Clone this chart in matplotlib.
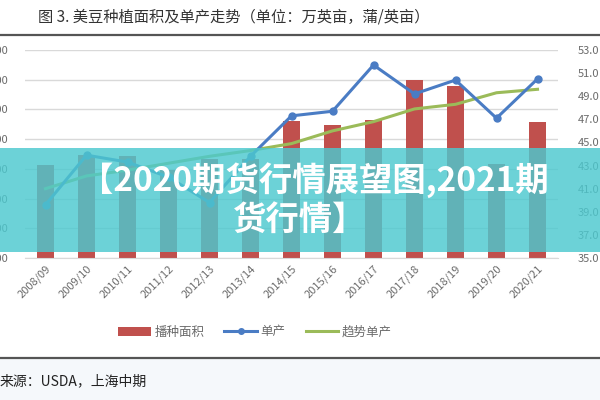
import numpy as np
import matplotlib.pyplot as plt
from matplotlib.patches import Rectangle, Patch
from matplotlib.lines import Line2D

plt.rcParams['font.family'] = ['Noto Sans CJK SC', 'DejaVu Sans']

seasons = ['2008/09', '2009/10', '2010/11', '2011/12', '2012/13', '2013/14', '2014/15',
           '2015/16', '2016/17', '2017/18', '2018/19', '2019/20', '2020/21']
# 播种面积 (万英亩)
area = [7570, 7730, 7715, 7480, 7665, 7660, 8300, 8240, 8330, 9000, 8900, 7590, 8290]
# 单产 (蒲/英亩)
yield_ = [39.6, 43.9, 43.3, 42.0, 39.8, 43.8, 47.3, 47.7, 51.7, 49.2, 50.4, 47.1, 50.5]
# 趋势单产
trend = [41.0, 42.1, 42.6, 43.2, 43.8, 44.3, 44.9, 46.0, 46.8, 47.9, 48.3, 49.3, 49.6]

left_ticks = [6000, 6500, 7000, 7500, 8000, 8500, 9000, 9500]
right_ticks = [35, 37, 39, 41, 43, 45, 47, 49, 51, 53]

W, H = 600, 400
fig = plt.figure(figsize=(6, 4), dpi=100)
fig.patch.set_facecolor('white')

# bottom source area background
fig.patches.append(Rectangle((0, 0), 1, 1 - 358 / H, transform=fig.transFigure,
                             facecolor='#f5f8fb', edgecolor='none', zorder=0))

ax = fig.add_axes([25 / W, 1 - 258 / H, 533 / W, 208 / H])
ax2 = ax.twinx()

x = np.arange(len(seasons))
ax.bar(x, area, width=0.42, color='#c0504d', zorder=2)
ax.set_ylim(6000, 9500)
ax.set_xlim(-0.5, len(seasons) - 0.5)
ax.set_yticks(left_ticks)
ax.set_yticklabels([f'{v:,}' for v in left_ticks])
ax.grid(axis='y', color='#d9d9d9', linewidth=1, zorder=0)
ax.set_axisbelow(True)
ax.set_xticks(x)
ax.set_xticklabels(seasons, rotation=45, ha='right', rotation_mode='anchor')

ax2.plot(x, yield_, color='#4a7cc4', linewidth=2.2, marker='o', markersize=5, zorder=4)
ax2.plot(x, trend, color='#9bbb59', linewidth=2.2, zorder=3)
ax2.set_ylim(35, 53)
ax2.set_yticks(right_ticks)
ax2.set_yticklabels([f'{v:.1f}' for v in right_ticks])

for a in (ax, ax2):
    for s in a.spines.values():
        s.set_visible(False)
    a.tick_params(length=0, labelsize=8, colors='#6b6b6b')
ax.tick_params(axis='y', pad=12)
ax.tick_params(axis='x', pad=4)
ax2.tick_params(axis='y', pad=14)
ax.spines['bottom'].set_visible(True)
ax.spines['bottom'].set_color('#d9d9d9')

# legend
handles = [Patch(facecolor='#c0504d', edgecolor='none'),
           Line2D([], [], color='#4a7cc4', linewidth=2.2, marker='o', markersize=4),
           Line2D([], [], color='#9bbb59', linewidth=2.2)]
fig.legend(handles, ['播种面积', '单产', '趋势单产'], loc='center',
           bbox_to_anchor=(255 / W, 1 - 332 / H), ncol=3, frameon=False,
           fontsize=9, labelcolor='#6b6b6b', handlelength=2.6, columnspacing=1.6,
           handletextpad=0.3)

# title and rules
fig.text(38 / W, 1 - 17 / H, '图 3. 美豆种植面积及单产走势（单位：万英亩，蒲/英亩）',
         fontsize=11, color='#333333', va='center', ha='left')
fig.add_artist(Line2D([0, 1], [1 - 35 / H, 1 - 35 / H], transform=fig.transFigure,
                      color='#555555', linewidth=1.6))
fig.add_artist(Line2D([0, 1], [1 - 358 / H, 1 - 358 / H], transform=fig.transFigure,
                      color='#555555', linewidth=1.6))
fig.text(0, 1 - 381 / H, '来源：USDA，上海中期', fontsize=10, color='#222222',
         va='center', ha='left')

# watermark banner
fig.patches.append(Rectangle((0, 1 - 252 / H), 1, 104 / H, transform=fig.transFigure,
                             facecolor='#4cc9cf', alpha=0.82, edgecolor='none', zorder=10))
fig.text(314 / W, 1 - 180 / H, '【2020期货行情展望图,2021期', fontsize=24,
         fontweight='bold', color='white', ha='center', va='center', zorder=11)
fig.text(300 / W, 1 - 220 / H, '货行情】', fontsize=24,
         fontweight='bold', color='white', ha='center', va='center', zorder=11)

fig.savefig('out.png', dpi=100)
